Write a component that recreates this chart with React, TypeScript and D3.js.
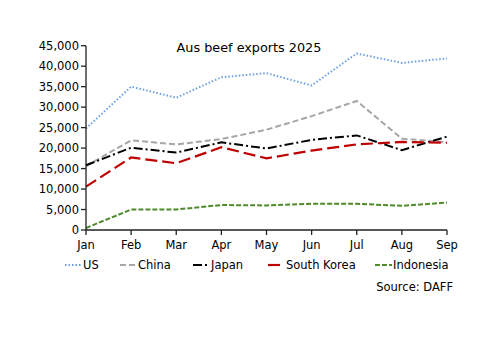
import React from "react";
import * as d3 from "d3";

const months = ["Jan", "Feb", "Mar", "Apr", "May", "Jun", "Jul", "Aug", "Sep"];
const us = [24800, 35000, 32300, 37300, 38300, 35300, 43100, 40800, 41900];
const china = [15600, 21900, 20900, 22200, 24500, 27800, 31500, 22300, 21400];
const japan = [15800, 20100, 18900, 21400, 19900, 22000, 23100, 19500, 22800];
const southKorea = [10600, 17700, 16300, 20200, 17500, 19400, 20900, 21500, 21300];
const indonesia = [500, 5000, 5000, 6100, 6000, 6400, 6400, 5900, 6700];
const yTicks = [0, 5000, 10000, 15000, 20000, 25000, 30000, 35000, 40000, 45000];

const series = [
  { name: "US", values: us, color: "#6c9fe6", dash: "1.5,2", width: 2 },
  { name: "China", values: china, color: "#a6a6a6", dash: "6,3", width: 2 },
  { name: "Japan", values: japan, color: "#000000", dash: "9,3,2,3", width: 2 },
  { name: "South Korea", values: southKorea, color: "#c00000", dash: "12,5", width: 2.2 },
  { name: "Indonesia", values: indonesia, color: "#4f8a2b", dash: "5,2", width: 2 },
];

const legendX = [65, 120, 193, 268, 375];
const FONT = "Tahoma, 'DejaVu Sans', Verdana, sans-serif";

export default function App() {
  const x = d3.scalePoint<string>().domain(months).range([86, 447]);
  const y = d3.scaleLinear().domain([0, 45000]).range([230, 45.7]);
  const line = d3
    .line<number>()
    .x((_, i) => x(months[i]) as number)
    .y((d) => y(d));
  const fmt = d3.format(",");
  return (
    <svg width={500} height={353} style={{ position: "absolute", left: 0, top: 0, background: "#fff" }}>
      <text x={249} y={52} textAnchor="middle" fontFamily={FONT} fontSize={12.8} fill="#000">
        Aus beef exports 2025
      </text>
      {series.map((s) => (
        <path
          key={s.name}
          d={line(s.values) || ""}
          fill="none"
          stroke={s.color}
          strokeWidth={s.width}
          strokeDasharray={s.dash}
        />
      ))}
      <line x1={86} x2={86} y1={45.7} y2={230} stroke="#222" strokeWidth={1.3} />
      <line x1={86} x2={447} y1={230} y2={230} stroke="#222" strokeWidth={1.3} />
      {yTicks.map((t) => (
        <g key={t}>
          <line x1={81} x2={86} y1={y(t)} y2={y(t)} stroke="#222" strokeWidth={1.3} />
          <text x={79} y={y(t) + 4} textAnchor="end" fontFamily={FONT} fontSize={11.5} fill="#000">
            {fmt(t)}
          </text>
        </g>
      ))}
      {months.map((m) => (
        <g key={m}>
          <line x1={x(m)} x2={x(m)} y1={230} y2={235} stroke="#222" strokeWidth={1.3} />
          <text x={x(m)} y={249} textAnchor="middle" fontFamily={FONT} fontSize={11.5} fill="#000">
            {m}
          </text>
        </g>
      ))}
      {series.map((s, i) => (
        <g key={s.name}>
          <line
            x1={legendX[i]}
            x2={legendX[i] + 17}
            y1={265}
            y2={265}
            stroke={s.color}
            strokeWidth={s.width}
            strokeDasharray={s.dash}
          />
          <text x={legendX[i] + 18} y={269} fontFamily={FONT} fontSize={11.5} fill="#000">
            {s.name}
          </text>
        </g>
      ))}
      <text x={453} y={291} textAnchor="end" fontFamily={FONT} fontSize={11.5} fill="#000">
        Source: DAFF
      </text>
    </svg>
  );
}
